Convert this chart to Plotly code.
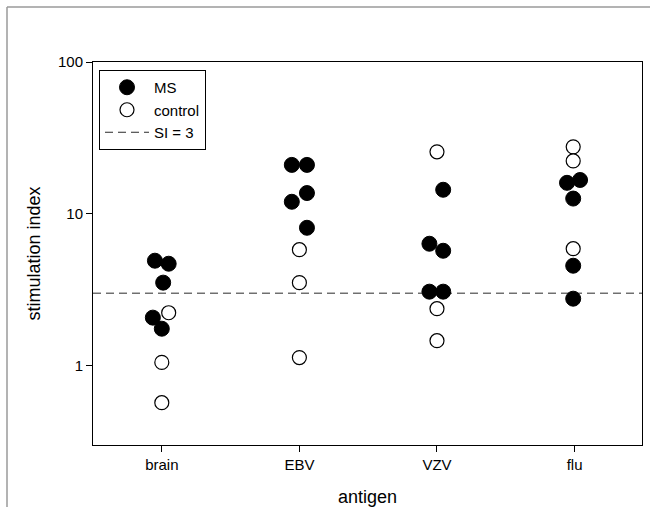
import plotly.graph_objects as go

# ---- data ----
categories = ["brain", "EBV", "VZV", "flu"]
ms_values = [
    [4.91, 4.69, 3.52, 2.07, 1.75],
    [21.0, 21.0, 13.7, 12.0, 8.09],
    [14.4, 6.35, 5.71, 3.07, 3.07],
    [16.7, 16.0, 12.6, 4.55, 2.76],
]
control_values = [
    [2.23, 1.05, 0.57],
    [5.8, 3.52, 1.13],
    [25.6, 2.37, 1.46],
    [27.6, 22.3, 5.89],
]
# horizontal jitter (fraction of category spacing) used to separate overlapping points
ms_jitter = [
    [-0.05, 0.05, 0.01, -0.065, 0.0],
    [-0.055, 0.055, 0.055, -0.055, 0.055],
    [0.045, -0.055, 0.045, -0.055, 0.045],
    [0.04, -0.055, -0.01, -0.01, -0.01],
]
control_jitter = [
    [0.05, 0.0, 0.0],
    [0.0, 0.0, 0.0],
    [0.0, 0.0, 0.0],
    [-0.01, -0.01, -0.01],
]
threshold = 3
threshold_label = "SI = 3"

W, H = 650, 507
ML, MR, MT, MB = 93, 8, 62, 62
x_range = [0.5, 4.49]
y_range = [-0.523, 2]

FONT = "Liberation Sans, Arial, sans-serif"

def xs(vals, jit):
    out = []
    for i, (vs, js) in enumerate(zip(vals, jit)):
        out += [i + 1 + j for j in js]
    return out

def ys(vals):
    out = []
    for vs in vals:
        out += vs
    return out

fig = go.Figure()
fig.add_trace(go.Scatter(
    x=x_range, y=[threshold, threshold], mode="lines", name=threshold_label,
    line=dict(color="#2a2a2a", width=1, dash="8px,5px"), legendrank=3,
))
fig.add_trace(go.Scatter(
    x=xs(ms_values, ms_jitter), y=ys(ms_values), mode="markers", name="MS",
    marker=dict(symbol="circle", size=15, color="black", line=dict(color="black", width=1)),
    legendrank=1,
))
fig.add_trace(go.Scatter(
    x=xs(control_values, control_jitter), y=ys(control_values), mode="markers", name="control",
    marker=dict(symbol="circle", size=14, color="white", line=dict(color="black", width=1.2)),
    legendrank=2,
))

pw = W - ML - MR
ph = H - MT - MB
def px_to_paper_x(px):
    return (px - ML) / pw
def px_to_paper_y(py):
    return (H - MB - py) / ph

border = "#9a9a9a"
fig.add_shape(type="line", xref="paper", yref="paper",
              x0=px_to_paper_x(7), x1=px_to_paper_x(7),
              y0=px_to_paper_y(7), y1=px_to_paper_y(H + 5),
              line=dict(color=border, width=1.5))
fig.add_shape(type="line", xref="paper", yref="paper",
              x0=px_to_paper_x(7), x1=px_to_paper_x(W + 5),
              y0=px_to_paper_y(7), y1=px_to_paper_y(7),
              line=dict(color=border, width=1.5))

fig.update_layout(
    width=W, height=H,
    margin=dict(l=ML, r=MR, t=MT, b=MB, autoexpand=False),
    paper_bgcolor="white", plot_bgcolor="white",
    font=dict(family=FONT, size=15, color="black"),
    showlegend=True,
    legend=dict(
        x=px_to_paper_x(99), y=px_to_paper_y(70), xanchor="left", yanchor="top",
        bordercolor="black", borderwidth=1, bgcolor="white",
        font=dict(family=FONT, size=15, color="black"),
        itemwidth=44, tracegroupgap=0,
    ),
    xaxis=dict(
        range=x_range, tickvals=[1, 2, 3, 4], ticktext=categories,
        showgrid=False, zeroline=False, automargin=False,
        showline=True, linecolor="black", linewidth=1, mirror=True,
        ticks="outside", ticklen=6, tickcolor="black",
        tickfont=dict(size=15),
        title=dict(text="antigen", font=dict(size=18), standoff=22),
    ),
    yaxis=dict(
        type="log", range=y_range,
        tickvals=[1, 10, 100], ticktext=["1", "10", "100"],
        showgrid=False, zeroline=False, automargin=False,
        showline=True, linecolor="black", linewidth=1, mirror=True,
        ticks="outside", ticklen=6, tickcolor="black",
        tickfont=dict(size=15),
        title=dict(text="stimulation index", font=dict(size=18), standoff=12),
    ),
)

fig.write_html(
    "out.html",
    config={"displayModeBar": False},
    post_script="document.body.style.margin='0';document.body.style.overflow='hidden';",
)
